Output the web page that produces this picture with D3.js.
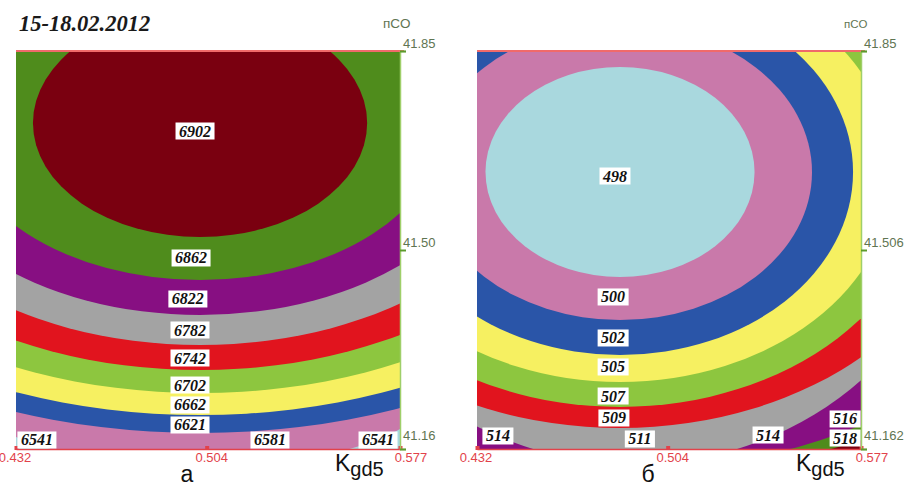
<!DOCTYPE html>
<html>
<head>
<meta charset="utf-8">
<script src="https://cdnjs.cloudflare.com/ajax/libs/d3/7.8.5/d3.min.js"></script>
<style>
  body { margin: 0; background: #fff; }
  svg { display: block; }
</style>
</head>
<body>
<script>
// Axis extents and ticks (K_gd5 horizontally, пCO vertically)
const kDomain = [0.432, 0.577];
const nDomain = [41.162, 41.85];
const kTicks = [0.432, 0.504, 0.577];
const kTickText = ["0.432", "0.504", "0.577"];
const nTicks = [41.162, 41.506, 41.85];
const nTickTextA = ["41.16", "41.50", "41.85"];
const nTickTextB = ["41.162", "41.506", "41.85"];

// Panel а: zone levels from the outside inwards, and the outer boundary of each zone
// as an ellipse [centre K, centre пCO, half-width in K, half-height in пCO]
const levelsA = [6541, 6581, 6621, 6662, 6702, 6742, 6782, 6822, 6862, 6902];
const zonesA = [
  null,
  [0.5015, 41.2605, 0.0868, 0.1296],
  [0.5015, 41.7255, 0.1918, 0.5359],
  [0.5015, 41.7255, 0.1790, 0.5048],
  [0.5015, 41.7255, 0.1631, 0.4667],
  [0.5015, 41.7255, 0.1469, 0.4270],
  [0.5015, 41.7255, 0.1295, 0.3838],
  [0.5015, 41.7255, 0.1125, 0.3319],
  [0.5015, 41.7255, 0.0921, 0.2714],
  [0.5015, 41.7255, 0.0631, 0.1971]
];
// level label anchors [level, K, пCO]
const labelsA = [
  [6902, 0.4996, 41.7117],
  [6862, 0.4981, 41.4922],
  [6822, 0.4969, 41.4213],
  [6782, 0.4977, 41.3677],
  [6742, 0.4977, 41.3193],
  [6702, 0.4977, 41.2726],
  [6662, 0.4977, 41.2381],
  [6621, 0.4977, 41.2035],
  [6581, 0.5279, 41.1776],
  [6541, 0.4399, 41.1776],
  [6541, 0.5687, 41.1776]
];

// Panel б
const levelsB = [518, 516, 514, 511, 509, 507, 505, 502, 500, 498];
const zonesB = [
  null,
  [0.4917, 41.6408, 0.1858, 0.5220],
  [0.4917, 41.6408, 0.1634, 0.5129],
  [0.4917, 41.6408, 0.1216, 0.5048],
  [0.4860, 41.6408, 0.1318, 0.4425],
  [0.4860, 41.6408, 0.1163, 0.4062],
  [0.4860, 41.6408, 0.1035, 0.3630],
  [0.4860, 41.6408, 0.0880, 0.3163],
  [0.4860, 41.6408, 0.0725, 0.2558],
  [0.4860, 41.6408, 0.0508, 0.1815]
];
const labelsB = [
  [498, 0.4841, 41.6339],
  [500, 0.4834, 41.4248],
  [502, 0.4834, 41.3539],
  [505, 0.4834, 41.3038],
  [507, 0.4834, 41.2536],
  [509, 0.4837, 41.2156],
  [511, 0.4935, 41.1793],
  [514, 0.4399, 41.1845],
  [514, 0.5419, 41.1862],
  [516, 0.5710, 41.2139],
  [518, 0.5710, 41.1810]
];

// Fill colours, matched to the level order of each panel
const colorsA = ["#a9d8de", "#c979aa", "#2a55a8", "#f6f061", "#8dc63f",
                 "#e1141e", "#a3a3a3", "#870f82", "#4f8c1c", "#7a0010"];
const colorsB = ["#7a0010", "#4f8c1c", "#870f82", "#a3a3a3", "#e1141e",
                 "#8dc63f", "#f6f061", "#2a55a8", "#c979aa", "#a9d8de"];

const W = 906, H = 488;
const svg = d3.select("body").append("svg").attr("width", W).attr("height", H);

svg.append("text")
  .attr("x", 19).attr("y", 31)
  .attr("font-family", "Liberation Serif, serif")
  .attr("font-weight", "bold").attr("font-style", "italic")
  .attr("font-size", 22.5).attr("fill", "#1a1a1a")
  .text("15-18.02.2012");

const tickFont = "Liberation Sans, Arial, sans-serif";
const axisRed = "#e2424a";
const axisGreen = "#5c9a2e";
const sideText = "#5f7552";

function drawPanel(cfg) {
  const { id, left, right, top, bottom, levels, zones, colors, labels, nText, letter, nameSize } = cfg;
  const x = d3.scaleLinear().domain(kDomain).range([left, right]);
  const y = d3.scaleLinear().domain(nDomain).range([bottom, top]);
  const g = svg.append("g");

  g.append("clipPath").attr("id", "clip-" + id)
    .append("rect").attr("x", left).attr("y", top)
    .attr("width", right - left).attr("height", bottom - top);

  const area = g.append("g").attr("clip-path", `url(#clip-${id})`);
  const zoneData = levels.map((lv, i) => ({ lv, z: zones[i], c: colors[i] }));

  area.selectAll("rect.bg").data(zoneData.filter(d => !d.z)).join("rect")
    .attr("class", "bg")
    .attr("x", left).attr("y", top)
    .attr("width", right - left).attr("height", bottom - top)
    .attr("fill", d => d.c);

  area.selectAll("ellipse").data(zoneData.filter(d => d.z)).join("ellipse")
    .attr("cx", d => x(d.z[0]))
    .attr("cy", d => y(d.z[1]))
    .attr("rx", d => x(d.z[0] + d.z[2]) - x(d.z[0]))
    .attr("ry", d => y(d.z[1] - d.z[3]) - y(d.z[1]))
    .attr("fill", d => d.c);

  // top edge
  g.append("line").attr("x1", left).attr("x2", right + 4)
    .attr("y1", top).attr("y2", top)
    .attr("stroke", "#f06a6a").attr("stroke-width", 2);

  // bottom axis (K_gd5)
  const ax = d3.axisBottom(x).tickValues(kTicks).tickSize(0).tickFormat("");
  const gx = g.append("g").attr("transform", `translate(0,${bottom})`).call(ax);
  gx.select(".domain").attr("stroke", axisRed).attr("stroke-width", 1.5);
  gx.selectAll(".tick").append("rect")
    .attr("x", -2).attr("y", -3).attr("width", 4).attr("height", 4)
    .attr("fill", axisRed);
  gx.selectAll(".tick").append("text")
    .attr("x", (d, i) => 4.5 + (i - 1) * 6).attr("y", 13)
    .attr("text-anchor", "middle")
    .attr("font-family", tickFont).attr("font-size", 13)
    .attr("fill", axisRed)
    .text((d, i) => kTickText[i]);

  // right axis (пCO)
  const ay = d3.axisRight(y).tickValues(nTicks).tickSize(6).tickFormat("");
  const gy = g.append("g").attr("transform", `translate(${right},0)`).call(ay);
  gy.select(".domain").attr("stroke", "#9fcf6a").attr("stroke-width", 1.5);
  gy.selectAll(".tick line").attr("stroke", axisGreen).attr("stroke-width", 2);
  gy.selectAll(".tick").append("text")
    .attr("x", 3).attr("y", (d, i) => i === 0 ? -10 : -4)
    .attr("font-family", tickFont).attr("font-size", 13)
    .attr("fill", sideText)
    .text((d, i) => nText[i]);

  g.append("text")
    .attr("x", right - 17).attr("y", 28)
    .attr("font-family", tickFont).attr("font-size", nameSize)
    .attr("fill", sideText)
    .text("пCO");

  // level labels
  const lab = g.selectAll("g.lab").data(labels).join("g")
    .attr("class", "lab")
    .attr("transform", d => `translate(${x(d[1])},${y(d[2])})`);
  lab.append("text")
    .attr("text-anchor", "middle").attr("y", 5.5)
    .attr("font-family", "Liberation Serif, serif")
    .attr("font-weight", "bold").attr("font-style", "italic")
    .attr("font-size", 16).attr("fill", "#111")
    .text(d => d[0]);
  lab.insert("rect", "text")
    .attr("fill", "#fff")
    .each(function () {
      const t = this.parentNode.querySelector("text");
      const w = t.getComputedTextLength() + 7;
      d3.select(this).attr("x", -w / 2).attr("y", -8.5).attr("width", w).attr("height", 17);
    });

  // axis title K_gd5
  const kt = g.append("text")
    .attr("x", right - 65).attr("y", 471)
    .attr("font-family", tickFont).attr("fill", "#111");
  kt.append("tspan").attr("font-size", 23).text("K");
  kt.append("tspan").attr("font-size", 20).attr("dy", 5).text("gd5");

  g.append("text")
    .attr("x", (left + right) / 2 - 21).attr("y", 482)
    .attr("text-anchor", "middle")
    .attr("font-family", tickFont).attr("font-size", 23).attr("fill", "#111")
    .text(letter);
}

drawPanel({ id: "a", left: 16, right: 400, top: 51, bottom: 449,
  levels: levelsA, zones: zonesA, colors: colorsA, labels: labelsA,
  nText: nTickTextA, letter: "а", nameSize: 13.5 });
drawPanel({ id: "b", left: 477, right: 861, top: 51, bottom: 449,
  levels: levelsB, zones: zonesB, colors: colorsB, labels: labelsB,
  nText: nTickTextB, letter: "б", nameSize: 11.5 });
</script>
</body>
</html>
